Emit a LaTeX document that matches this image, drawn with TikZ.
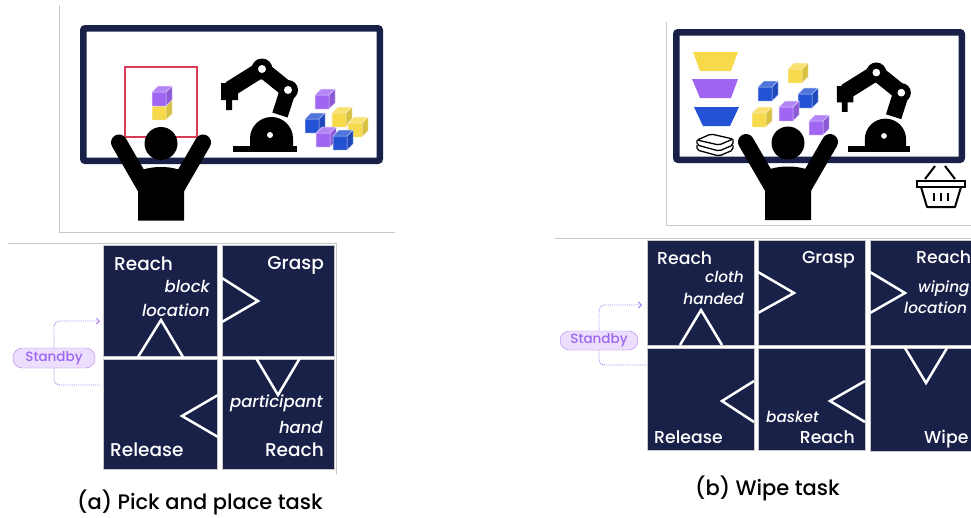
\documentclass[tikz,border=0pt]{standalone}
\usepackage{fontspec}
\setmainfont{Poppins}[UprightFont=* Medium, ItalicFont=* Medium Italic]
\usetikzlibrary{arrows.meta, positioning, calc}
\definecolor{cnavy}{HTML}{1A2149}
\definecolor{cred}{HTML}{D93B57}
\definecolor{cpurple}{HTML}{A066F2}
\definecolor{cyellow}{HTML}{F6DA4C}
\definecolor{cblue}{HTML}{2352D4}
\definecolor{cframe}{HTML}{C8C8C8}
\definecolor{csbfill}{HTML}{ECDFFD}
\definecolor{csbline}{HTML}{AC80F3}
\definecolor{csbtext}{HTML}{9C66F0}

\begin{document}
\begin{tikzpicture}[
  x=1pt, y=-1pt,
  >={Straight Barb[length=3pt]},
  framegray/.style={draw=cframe, line width=1pt},
  board/.style={draw=cnavy, line width=6.5pt, rounded corners=2pt, fill=white},
  cell/.style={draw=cframe, line width=0.8pt, fill=cnavy, inner sep=0pt, outer sep=0pt},
  notch/.style={draw=white, line width=2.5pt, line join=miter},
  lbl/.style={text=white, inner sep=0pt, font=\fontsize{18.5}{20}\selectfont},
  ital/.style={text=white, inner sep=0pt, font=\fontsize{16.5}{18}\selectfont\itshape},
  lblb/.style={lbl, font=\fontsize{17.3}{19}\selectfont},
  italb/.style={ital, font=\fontsize{15.3}{17}\selectfont\itshape},
  standby/.style={draw=csbline, fill=csbfill, text=csbtext, rounded corners=9.5pt,
                  inner sep=0pt, font=\fontsize{13.5}{15}\selectfont},
  sbline/.style={draw=csbline, line width=0.9pt, densely dotted, rounded corners=6pt},
  caption/.style={inner sep=0pt, font=\fontsize{21}{23}\selectfont},
  icon/.style={draw=black, line width=1.3pt, rounded corners=2pt},
  % small isometric block, front-left-bottom corner at the pic origin
  cube/.pic={
    \fill[#1] (0,0) rectangle (14,-14);
    \fill[#1!80!white] (0,-14) -- (6,-20) -- (20,-20) -- (14,-14) -- cycle;
    \fill[#1!88!black] (14,0) -- (20,-6) -- (20,-20) -- (14,-14) -- cycle;
    \draw[white!70!#1, line width=0.5pt] (0,0) rectangle (14,-14)
      (0,-14) -- (6,-20) -- (20,-20) -- (14,-14) (14,0) -- (20,-6) -- (20,-20);
  },
  % robot arm, pic origin at the top left of its box
  robot/.pic={
    \fill (13,88) rectangle (77,94);
    \fill (30,88) -- (30,80.5) arc[start angle=180, end angle=360, radius=21.5]
      -- (73,88) -- cycle;
    \draw[line width=16pt, line join=round] (10,31) -- (42,11) -- (68,32) -- (60,57);
    \fill (42,11) circle[radius=10.5] (68,32) circle[radius=10];
    \fill (1,25) rectangle (18,42) (6,42) rectangle (12,52);
    \fill[white] (42,11) circle[radius=4] (68,32) circle[radius=4]
      (50,77) circle[radius=3];
  },
  % person with both arms raised, pic origin at the head centre
  person/.pic={
    \fill (0,0) circle[radius=16.5];
    \draw[line width=16pt, line cap=round] (-42,-1) -- (-16,44) (42,-1) -- (16,44);
    \fill (-23,28) .. controls (-10,22) and (10,22) .. (23,28) -- (23,77)
      -- (-23,77) -- cycle;
  },
  ]
\clip (0,0) rectangle (971,517);
\fill[white] (0,0) rectangle (971,517);

% ---- (a) pick and place: scene
\draw[framegray] (59,5) -- (59,232) -- (395,232);
\draw[board] (83.25,28.25) rectangle (379.75,160.75);
\draw[cred, line width=2.2pt] (125,67) rectangle (197,137);
\pic at (152,120) {cube=cyellow};
\pic at (152,106) {cube=cpurple};
\pic at (220,58) {robot};
\pic at (315,109) {cube=cpurple};
\pic at (305,133) {cube=cblue};
\pic at (332,127) {cube=cyellow};
\pic at (348,137) {cube=cyellow};
\pic at (316,147) {cube=cpurple};
\pic at (333,150) {cube=cblue};
\pic at (161,143.5) {person};

% ---- (a) pick and place: state grid
\draw[framegray] (8,243) -- (336,243) -- (336,474);
\node[cell, minimum width=114, minimum height=111] (reachA)   at (160,300.5) {};
\node[cell, minimum width=112, minimum height=111] (graspA)   at (278,300.5) {};
\node[cell, minimum width=114, minimum height=110] (releaseA) at (160,414) {};
\node[cell, minimum width=112, minimum height=110] (handA)    at (278,414) {};

\draw[notch] (138,357) -- (161,320) -- (183,357);
\draw[notch] (222,278) -- (258,301) -- (222,322);
\draw[notch] (256,358) -- (278,395) -- (300,358);
\draw[notch] (218,395) -- (182,416) -- (218,437);

\node[lbl, anchor=base west]  (tReachA)  at (114,270) {Reach};
\node[ital, anchor=base east] (tBlock)   at (210,292) {block};
\node[ital, anchor=base east] (tLocA)    at (210,316) {location};
\node[lbl, anchor=base east]  (tGraspA)  at (324,269) {Grasp};
\node[ital, anchor=base east] (tPart)    at (323,407) {participant};
\node[ital, anchor=base east] (tHand)    at (323,433) {hand};
\node[lbl, anchor=base east]  (tReachB)  at (324,456) {Reach};
\node[lbl, anchor=base west]  (tRelA)    at (110,456) {Release};

\node[standby, minimum width=82, minimum height=20] (sbA) at (54,358) {Standby};
\coordinate (inA)  at (100,321);
\coordinate (outA) at (100,385);
\draw[sbline, ->] (sbA.north) |- (inA);
\draw[sbline] (sbA.south) |- (outA);

\node[caption, anchor=base west] (capA) at (77,509) {(a) Pick and place task};

% ---- (b) wipe: scene
\draw[framegray] (666,22) -- (666,225) -- (971,225);
\draw[board] (676.25,32.25) rectangle (961.75,159.75);
\fill[cyellow] (693,52) -- (738,52) -- (731,71) -- (700,71) -- cycle;
\fill[cpurple] (692,79) -- (738,79) -- (731,98) -- (700,98) -- cycle;
\fill[cblue]   (694,107) -- (739,107) -- (730,126) -- (703,126) -- cycle;
% folded cloths
\draw[icon] (697,140) -- (711,134) -- (733,139) -- (719,145) -- cycle;
\draw[icon] (697,140) -- (697,145) -- (719,151) -- (733,145) -- (733,139);
\draw[icon] (697,145) -- (697,150) -- (719,156) -- (733,150) -- (733,145);
\pic at (788,83) {cube=cyellow};
\pic at (758,101) {cube=cblue};
\pic at (798,108) {cube=cblue};
\pic at (752,127) {cube=cyellow};
\pic at (779,121) {cube=cpurple};
\pic at (809,135) {cube=cpurple};
\pic[scale=0.96] at (836,62) {robot};
\pic at (788,143) {person};
% basket
\draw[line width=2pt] (925,179) -- (935,166) (955,179) -- (945,166);
\draw[line width=2pt] (917,181) rectangle (965,187);
\draw[line width=2pt, line join=round] (921,187) -- (927,207) -- (955,207) -- (961,187);
\draw[line width=2.2pt] (934,193) -- (934,201) (941,193) -- (941,201) (948,193) -- (948,201);

% ---- (b) wipe: state grid
\draw[framegray] (555,238) -- (971,238);
\node[cell, minimum width=107, minimum height=105] (reachC)   at (700.5,292.5) {};
\node[cell, minimum width=107, minimum height=105] (graspB)   at (811.5,292.5) {};
\node[cell, minimum width=107, minimum height=105] (reachD)   at (923.5,292.5) {};
\node[cell, minimum width=107, minimum height=102] (releaseB) at (700.5,399) {};
\node[cell, minimum width=107, minimum height=102] (basketB)  at (811.5,399) {};
\node[cell, minimum width=107, minimum height=103] (wipeB)    at (923.5,399.5) {};

\draw[notch] (680,345) -- (701,310) -- (722,345);
\draw[notch] (758,272) -- (794,293) -- (758,313);
\draw[notch] (870,272) -- (905,293) -- (870,313);
\draw[notch] (905,348) -- (926,383) -- (947,348);
\draw[notch] (865,381) -- (830,401) -- (865,422);
\draw[notch] (754,381) -- (722,401) -- (754,422);

\node[lblb, anchor=base west]  (tReachC)  at (657,264) {Reach};
\node[italb, anchor=base east] (tCloth)   at (744,282) {cloth};
\node[italb, anchor=base east] (tHanded)  at (744,304) {handed};
\node[lblb, anchor=base east]  (tGraspB)  at (855,263) {Grasp};
\node[lblb, anchor=base west]  (tReachD)  at (916,263) {Reach};
\node[italb, anchor=base west] (tWiping)  at (918,292) {wiping};
\node[italb, anchor=base west] (tLocB)    at (904,313) {location};
\node[italb, anchor=base west] (tBasket)  at (766,422) {basket};
\node[lblb, anchor=base east]  (tReachE)  at (855,443) {Reach};
\node[lblb, anchor=base west]  (tRelB)    at (654,443) {Release};
\node[lblb, anchor=base west]  (tWipe)    at (924,443) {Wipe};

\node[standby, minimum width=78, minimum height=19] (sbB) at (599,340.5) {Standby};
\coordinate (inB)  at (642,305);
\coordinate (outB) at (647,365);
\draw[sbline, ->] (sbB.north) |- (inB);
\draw[sbline] (sbB.south) |- (outB);

\node[caption, anchor=base west] (capB) at (695,495) {(b) Wipe task};
\end{tikzpicture}
\end{document}
